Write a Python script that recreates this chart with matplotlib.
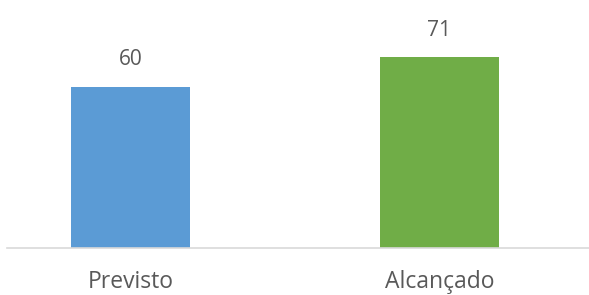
import matplotlib.pyplot as plt

categories = ['Previsto', 'Alcançado']
values = [60, 71]
colors = ['#5B9BD5', '#70AD47']

plt.rcParams['font.family'] = ['Open Sans', 'DejaVu Sans']

fig = plt.figure(figsize=(5.89, 2.95), dpi=100)
ax = fig.add_axes([7 / 589, 47 / 295, 582 / 589, 248 / 295])

x = range(len(categories))
bars = ax.bar(x, values, width=0.385, color=colors)

for bar, v in zip(bars, values):
    ax.annotate(f'{v}', (bar.get_x() + bar.get_width() / 2, v),
                xytext=(0, 12), textcoords='offset points',
                ha='center', va='bottom', fontsize=15, color='#595959')

ax.set_xlim(-0.3997, 1.484)
ax.set_ylim(0, 92.4)
ax.set_xticks(list(x))
ax.set_xticklabels(categories, fontsize=16.5, color='#595959')
ax.tick_params(axis='x', length=0, pad=16)
ax.set_yticks([])
for s in ['top', 'right', 'left']:
    ax.spines[s].set_visible(False)
ax.spines['bottom'].set_color('#D9D9D9')
ax.spines['bottom'].set_linewidth(1.2)

fig.savefig('out.png', dpi=100)
